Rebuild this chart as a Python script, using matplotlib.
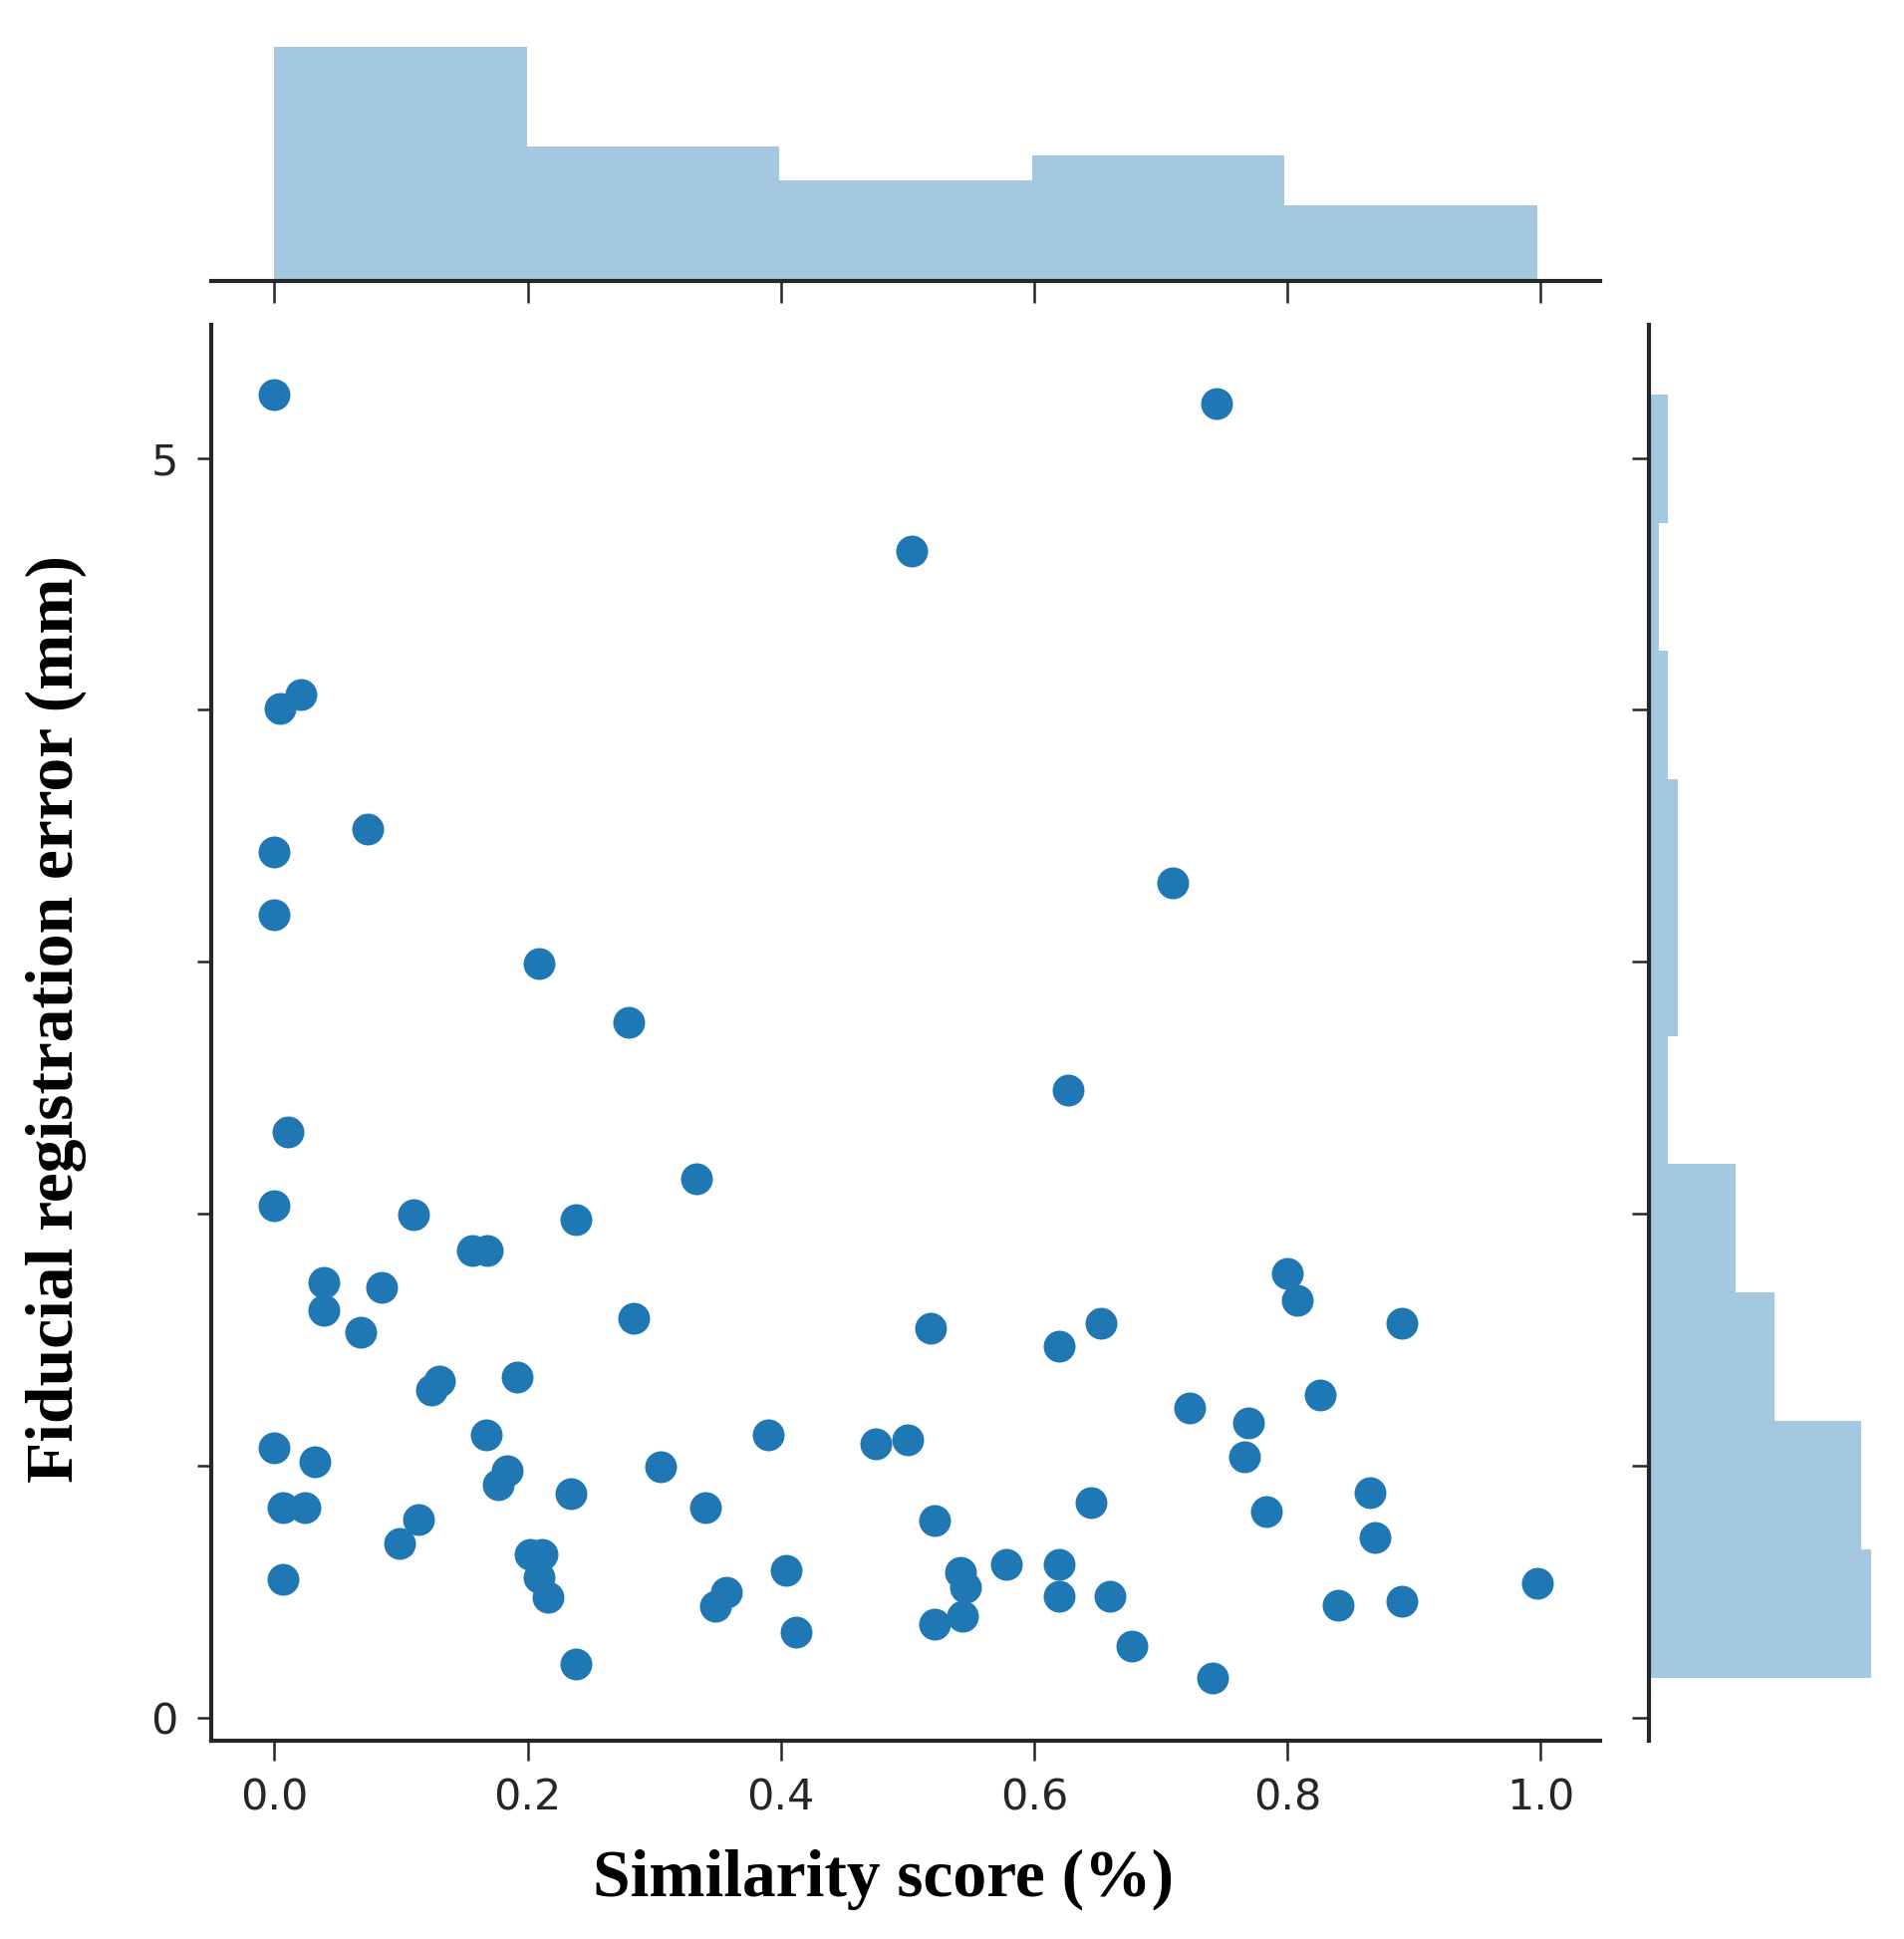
import matplotlib
matplotlib.use("Agg")
import matplotlib.pyplot as plt
import numpy as np

# Data
similarity = [
    0.000, 0.744, 0.503, 0.004, 0.021, 0.074, 0.000, 0.000, 0.709, 0.209,
    0.280, 0.627, 0.011, 0.333, 0.000, 0.110, 0.238, 0.156, 0.168, 0.039,
    0.039, 0.085, 0.068, 0.284, 0.130, 0.124, 0.192, 0.000, 0.032, 0.167,
    0.184, 0.177, 0.234, 0.305, 0.390, 0.475, 0.500, 0.007, 0.024, 0.340,
    0.114, 0.099, 0.202, 0.211, 0.209, 0.216, 0.007, 0.357, 0.348, 0.404,
    0.412, 0.238, 0.800, 0.808, 0.518, 0.620, 0.653, 0.890, 0.826, 0.723,
    0.769, 0.766, 0.645, 0.521, 0.783, 0.865, 0.869, 0.578, 0.620, 0.620,
    0.542, 0.546, 0.543, 0.521, 0.660, 0.677, 0.741, 0.840, 0.890, 0.997,
]
fre_mm = [
    5.252, 5.217, 4.630, 4.007, 4.059, 3.527, 3.436, 3.187, 3.315, 2.992,
    2.760, 2.493, 2.326, 2.138, 2.031, 1.996, 1.977, 1.853, 1.853, 1.728,
    1.619, 1.709, 1.531, 1.585, 1.337, 1.301, 1.352, 1.070, 1.016, 1.121,
    0.982, 0.927, 0.890, 0.997, 1.121, 1.088, 1.102, 0.836, 0.836, 0.836,
    0.785, 0.693, 0.649, 0.649, 0.558, 0.478, 0.551, 0.500, 0.444, 0.587,
    0.339, 0.214, 1.765, 1.655, 1.548, 1.475, 1.567, 1.567, 1.282, 1.228,
    1.170, 1.034, 0.855, 0.782, 0.818, 0.894, 0.716, 0.607, 0.609, 0.482,
    0.576, 0.517, 0.405, 0.372, 0.482, 0.285, 0.160, 0.446, 0.463, 0.533,
]
x_ticks = [0.0, 0.2, 0.4, 0.6, 0.8, 1.0]
x_tick_labels = ["0.0", "0.2", "0.4", "0.6", "0.8", "1.0"]
y_ticks = [0, 1, 2, 3, 4, 5]
y_tick_labels = ["0", "", "", "", "", "5"]
x_label = "Similarity score (%)"
y_label = "Fiducial registration error (mm)"

W, H = 1911, 1946
DPI = 100
fig = plt.figure(figsize=(W / DPI, H / DPI), dpi=DPI, facecolor="white")

def fx(px):
    return px / W

def fy(py):
    return 1 - py / H

main_l, main_r, main_t, main_b = 212, 1606, 326, 1747
ax = fig.add_axes([fx(main_l), fy(main_b), fx(main_r - main_l), (main_b - main_t) / H])
ax_top = fig.add_axes([fx(main_l), fy(281.7), fx(main_r - main_l), (281.7 - 35) / H], sharex=ax)
ax_right = fig.add_axes([fx(1655), fy(main_b), fx(1889 - 1655), (main_b - main_t) / H], sharey=ax)

blue = "#1f77b4"
edge = "#262626"

ax.scatter(similarity, fre_mm, s=530, color=blue, linewidths=0, zorder=3)
ax.set_xlim(-0.0499, 1.0469)
ax.set_ylim(-0.091, 5.528)
ax.set_xticks(x_ticks)
ax.set_xticklabels(x_tick_labels)
ax.set_yticks(y_ticks)
ax.set_yticklabels(y_tick_labels)
for s in ["top", "right"]:
    ax.spines[s].set_visible(False)
for s in ["left", "bottom"]:
    ax.spines[s].set_linewidth(3)
    ax.spines[s].set_color(edge)
ax.tick_params(axis="x", length=14.4, width=1.8, color=edge, labelsize=31,
               labelcolor=edge, pad=12)
ax.tick_params(axis="y", length=10, width=1.8, color=edge, labelsize=31,
               labelcolor=edge, pad=14)
ax.set_xlabel(x_label, fontsize=48.6, fontweight="bold", family="Liberation Serif")
ax.set_ylabel(y_label, fontsize=48.6, fontweight="bold", family="Liberation Serif")
ax.xaxis.set_label_coords(0.484, -0.076)
ax.yaxis.set_label_coords(-0.09, 0.51)

hist_color = (31 / 255, 119 / 255, 180 / 255, 0.4)
ax_top.hist(similarity, bins=5, color=hist_color, linewidth=0)
ax_right.hist(fre_mm, bins=10, orientation="horizontal", color=hist_color, linewidth=0)

for s in ["top", "right", "left"]:
    ax_top.spines[s].set_visible(False)
ax_top.spines["bottom"].set_linewidth(3)
ax_top.spines["bottom"].set_color(edge)
ax_top.tick_params(axis="x", length=15.6, width=1.8, color=edge, labelbottom=False)
ax_top.tick_params(axis="y", left=False, labelleft=False)

for s in ["top", "right", "bottom"]:
    ax_right.spines[s].set_visible(False)
ax_right.spines["left"].set_linewidth(3)
ax_right.spines["left"].set_color(edge)
ax_right.tick_params(axis="y", length=12, width=1.8, color=edge, labelleft=False)
ax_right.tick_params(axis="x", bottom=False, labelbottom=False)

fig.savefig("out.png", dpi=DPI, facecolor="white")
